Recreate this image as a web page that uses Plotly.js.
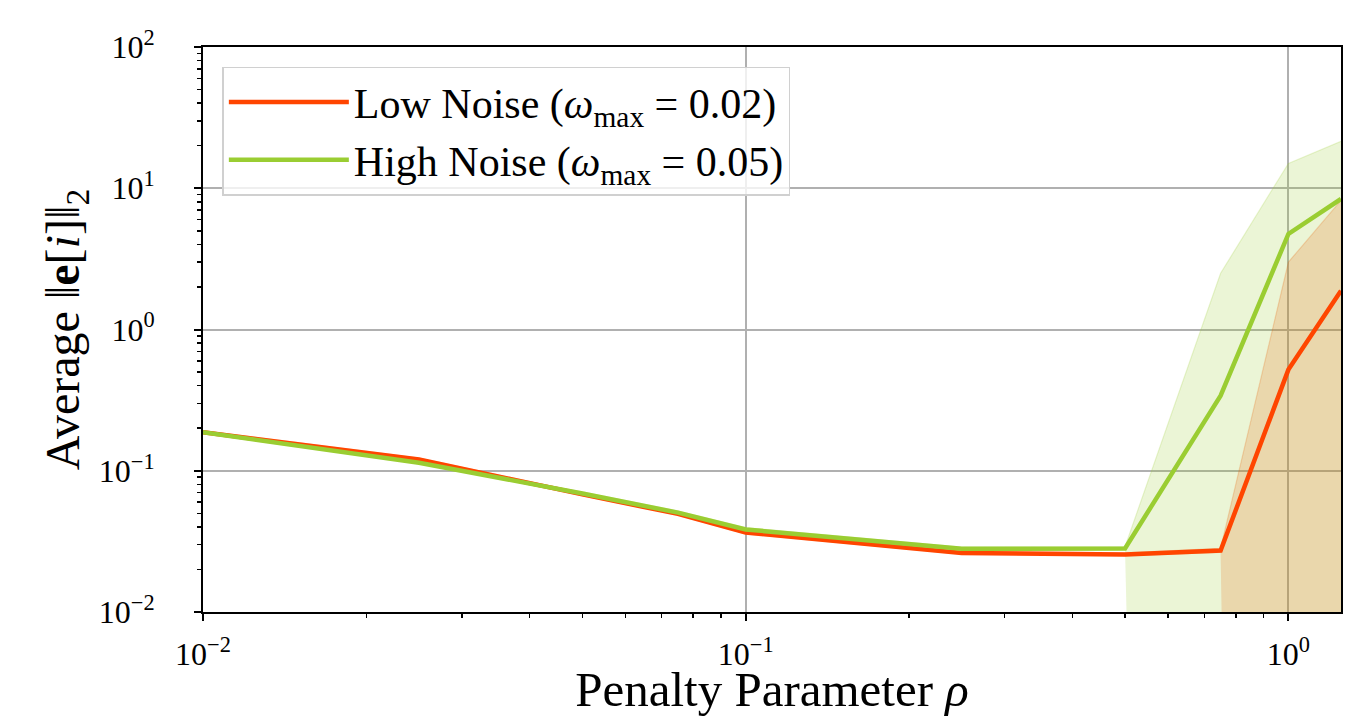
<!DOCTYPE html>
<html>
<head>
<meta charset="utf-8">
<script src="https://cdn.plot.ly/plotly-3.0.1.min.js"></script>
<style>
html,body{margin:0;padding:0;background:#fff;}
#chart{width:1347px;height:717px;}
svg text{font-family:"Liberation Serif", serif !important;}
</style>
</head>
<body>
<div id="chart"></div>
<script>
// Penalty parameter values (x)
const rho = [0.01, 0.025, 0.05, 0.075, 0.1, 0.25, 0.5, 0.75, 1.0, 1.25];

// Low noise (omega_max = 0.02): mean and band (1e-30 marks a lower bound below the axis)
const lowMean  = [0.187, 0.120, 0.068, 0.0495, 0.0366, 0.0262, 0.0255, 0.0272, 0.52, 1.88];
const lowUpper = [0.192, 0.123, 0.070, 0.0510, 0.0378, 0.0270, 0.0262, 0.0282, 3.0, 8.2];
const lowLower = [0.182, 0.117, 0.066, 0.0480, 0.0354, 0.0254, 0.0248, 0.0262, 1e-30, 1e-30];

// High noise (omega_max = 0.05): mean and band
const highMean  = [0.187, 0.114, 0.069, 0.0505, 0.0384, 0.0280, 0.0282, 0.34, 4.75, 8.4];
const highUpper = [0.192, 0.117, 0.071, 0.0520, 0.0396, 0.0288, 0.0290, 2.5, 15.0, 21.5];
const highLower = [0.182, 0.111, 0.067, 0.0490, 0.0372, 0.0272, 0.0274, 1e-30, 1e-30, 1e-30];

const seriesNames = ['Low Noise (<i>ω</i><sub>max</sub> = 0.02)', 'High Noise (<i>ω</i><sub>max</sub> = 0.05)'];

const xTickVals = [0.01, 0.1, 1];
const xTickText = ['10<sup>−2</sup>', '10<sup>−1</sup>', '10<sup>0</sup>'];
const yTickVals = [0.01, 0.1, 1, 10, 100];
const yTickText = ['10<sup>−2</sup>', '10<sup>−1</sup>', '10<sup>0</sup>', '10<sup>1</sup>', '10<sup>2</sup>'];

const RED = '#FF4500', GREEN = '#9ACD32';
const FONT = 'Liberation Serif';

function minorVals(lo, hi) {
  const out = [];
  for (let d = lo; d < hi; d++) {
    for (let k = 2; k <= 9; k++) out.push(k * Math.pow(10, d));
  }
  return out;
}

const traces = [
  {x: rho, y: highLower, mode: 'lines', line: {width: 0}, showlegend: false, hoverinfo: 'skip'},
  {x: rho, y: highUpper, mode: 'lines', fill: 'tonexty', fillcolor: 'rgba(154,205,50,0.2)',
   line: {width: 1.2, color: 'rgba(154,205,50,0.22)'}, showlegend: false, hoverinfo: 'skip'},
  {x: rho, y: lowLower, mode: 'lines', line: {width: 0}, showlegend: false, hoverinfo: 'skip'},
  {x: rho, y: lowUpper, mode: 'lines', fill: 'tonexty', fillcolor: 'rgba(230,95,5,0.2)',
   line: {width: 1.2, color: 'rgba(230,95,5,0.22)'}, showlegend: false, hoverinfo: 'skip'},
  {x: rho, y: lowMean, mode: 'lines', name: seriesNames[0], line: {color: RED, width: 4.5}},
  {x: rho, y: highMean, mode: 'lines', name: seriesNames[1], line: {color: GREEN, width: 4.5}}
];

const axisCommon = {
  type: 'log',
  showline: true, linecolor: 'black', linewidth: 2, mirror: true,
  ticks: 'outside', ticklen: 7, tickwidth: 2, tickcolor: 'black',
  showgrid: true, gridcolor: '#b0b0b0', gridwidth: 2,
  zeroline: false,
  tickfont: {family: FONT, size: 32, color: 'black'},
  tickmode: 'array'
};

const layout = {
  width: 1347, height: 717,
  margin: {l: 203, r: 6, t: 47, b: 105},
  paper_bgcolor: 'white', plot_bgcolor: 'white',
  xaxis: Object.assign({}, axisCommon, {
    range: [Math.log10(0.01), Math.log10(1.25)],
    tickvals: xTickVals, ticktext: xTickText,
    ticklabelstandoff: 6,
    minor: {tickmode: 'array', tickvals: minorVals(-2, 0), ticks: 'outside', ticklen: 4, tickwidth: 1.5, tickcolor: 'black', showgrid: false},
    title: {text: 'Penalty Parameter <i>ρ</i>', font: {family: FONT, size: 49, color: 'black'}, standoff: 27}
  }),
  yaxis: Object.assign({}, axisCommon, {
    range: [-2, 2],
    tickvals: yTickVals, ticktext: yTickText,
    ticklabelstandoff: 33,
    minor: {tickmode: 'array', tickvals: minorVals(-2, 2), ticks: 'outside', ticklen: 4, tickwidth: 1.5, tickcolor: 'black', showgrid: false},
    title: {text: 'Average ‖<b>e</b>[<i>i</i>]‖<sub>2</sub>', font: {family: FONT, size: 48, color: 'black'}, standoff: 4}
  }),
  legend: {
    x: 0.017, y: 0.965, xanchor: 'left', yanchor: 'top',
    traceorder: 'normal',
    bgcolor: 'rgba(255,255,255,0.8)', bordercolor: '#d0d0d0', borderwidth: 1.5,
    font: {family: FONT, size: 42, color: 'black'},
    tracegroupgap: 0, itemwidth: 120,
    entrywidth: 466, entrywidthmode: 'pixels'
  },
  showlegend: true
};

Plotly.newPlot('chart', traces, layout, {staticPlot: true, displayModeBar: false});
</script>
</body>
</html>
